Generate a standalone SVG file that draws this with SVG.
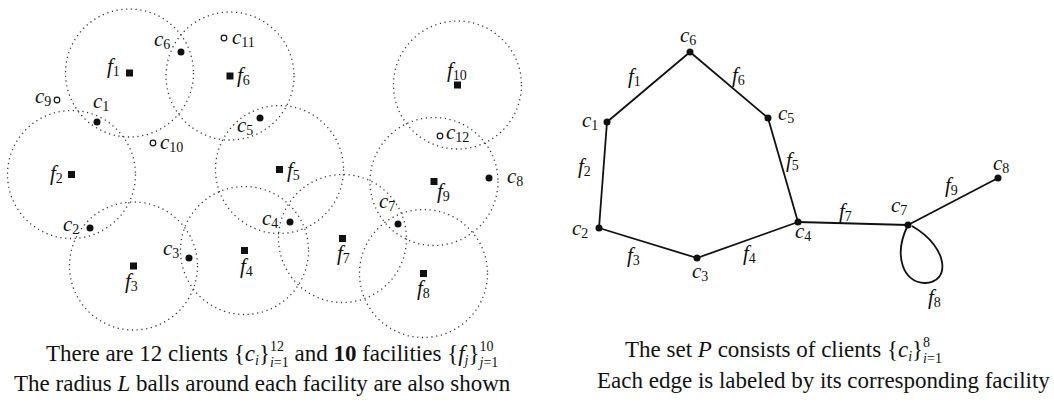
<svg xmlns="http://www.w3.org/2000/svg" width="1054" height="406" viewBox="0 0 1054 406">
<style>
.ball{fill:none;stroke:#333;stroke-width:1.3;stroke-dasharray:1.2 3.6}
.fac{fill:#111}
.cl{fill:#111}
.ho{fill:#fff;stroke:#111;stroke-width:1.2}
.lb{font-family:"Liberation Serif",serif;font-style:italic;font-size:21px;fill:#111}
.sb{font-style:normal;font-size:14px}
.cap{font-family:"Liberation Serif",serif;font-size:23px;fill:#111}
.it{font-style:italic}
.s{font-size:14px}
.edge{fill:none;stroke:#111;stroke-width:1.8}
.nd{fill:#111}
</style>
<rect width="1054" height="406" fill="#fff"/>
<g id="left-diagram">
<g id="f1"><circle class="ball" cx="129.5" cy="73" r="64"/><rect class="fac" x="126" y="69.5" width="7" height="7"/><text class="lb" x="107" y="73">f<tspan class="sb" dy="3">1</tspan></text></g>
<g id="f6"><circle class="ball" cx="230" cy="76" r="64"/><rect class="fac" x="226.5" y="72.5" width="7" height="7"/><text class="lb" x="237" y="82">f<tspan class="sb" dy="3">6</tspan></text></g>
<g id="f10"><circle class="ball" cx="457.5" cy="85" r="64"/><rect class="fac" x="454" y="81.5" width="7" height="7"/><text class="lb" x="447" y="77">f<tspan class="sb" dy="3">10</tspan></text></g>
<g id="f2"><circle class="ball" cx="71.5" cy="174.5" r="64"/><rect class="fac" x="68" y="171" width="7" height="7"/><text class="lb" x="50" y="180">f<tspan class="sb" dy="3">2</tspan></text></g>
<g id="f3"><circle class="ball" cx="133.5" cy="266" r="64"/><rect class="fac" x="130" y="262.5" width="7" height="7"/><text class="lb" x="125" y="288">f<tspan class="sb" dy="3">3</tspan></text></g>
<g id="f4"><circle class="ball" cx="244.5" cy="250.5" r="64"/><rect class="fac" x="241" y="247" width="7" height="7"/><text class="lb" x="240" y="273">f<tspan class="sb" dy="3">4</tspan></text></g>
<g id="f5"><circle class="ball" cx="279.5" cy="169.5" r="64"/><rect class="fac" x="276" y="166" width="7" height="7"/><text class="lb" x="287" y="177">f<tspan class="sb" dy="3">5</tspan></text></g>
<g id="f7"><circle class="ball" cx="342.5" cy="238.5" r="64"/><rect class="fac" x="339" y="235" width="7" height="7"/><text class="lb" x="337" y="260">f<tspan class="sb" dy="3">7</tspan></text></g>
<g id="f8"><circle class="ball" cx="423.5" cy="273.5" r="64"/><rect class="fac" x="420" y="270" width="7" height="7"/><text class="lb" x="417" y="295">f<tspan class="sb" dy="3">8</tspan></text></g>
<g id="f9"><circle class="ball" cx="434" cy="181.5" r="64"/><rect class="fac" x="430.5" y="178" width="7" height="7"/><text class="lb" x="437" y="198">f<tspan class="sb" dy="3">9</tspan></text></g>
<g id="c1"><circle class="cl" cx="97" cy="122" r="3.5"/><text class="lb" x="93" y="108">c<tspan class="sb" dy="3">1</tspan></text></g>
<g id="c2"><circle class="cl" cx="90" cy="228" r="3.5"/><text class="lb" x="63" y="231">c<tspan class="sb" dy="3">2</tspan></text></g>
<g id="c3"><circle class="cl" cx="189" cy="258" r="3.5"/><text class="lb" x="163" y="255">c<tspan class="sb" dy="3">3</tspan></text></g>
<g id="c4"><circle class="cl" cx="290" cy="222" r="3.5"/><text class="lb" x="262" y="225">c<tspan class="sb" dy="3">4</tspan></text></g>
<g id="c5"><circle class="cl" cx="260" cy="118" r="3.5"/><text class="lb" x="237" y="132">c<tspan class="sb" dy="3">5</tspan></text></g>
<g id="c6"><circle class="cl" cx="181" cy="52" r="3.5"/><text class="lb" x="154" y="46">c<tspan class="sb" dy="3">6</tspan></text></g>
<g id="c7"><circle class="cl" cx="398" cy="224" r="3.5"/><text class="lb" x="379" y="208">c<tspan class="sb" dy="3">7</tspan></text></g>
<g id="c8"><circle class="cl" cx="489" cy="178" r="3.5"/><text class="lb" x="507" y="183">c<tspan class="sb" dy="3">8</tspan></text></g>
<g id="c9"><circle class="ho" cx="57" cy="100" r="2.8"/><text class="lb" x="35" y="103">c<tspan class="sb" dy="3">9</tspan></text></g>
<g id="c10"><circle class="ho" cx="153" cy="143" r="2.8"/><text class="lb" x="160" y="149">c<tspan class="sb" dy="3">10</tspan></text></g>
<g id="c11"><circle class="ho" cx="224" cy="38" r="2.8"/><text class="lb" x="232" y="44">c<tspan class="sb" dy="3">11</tspan></text></g>
<g id="c12"><circle class="ho" cx="440" cy="136" r="2.8"/><text class="lb" x="446" y="139">c<tspan class="sb" dy="3">12</tspan></text></g>
</g>
<g id="connectors">
<line class="edge" x1="690" y1="52" x2="607" y2="122"/>
<line class="edge" x1="690" y1="52" x2="768" y2="118"/>
<line class="edge" x1="607" y1="122" x2="599" y2="228"/>
<line class="edge" x1="768" y1="118" x2="798" y2="222"/>
<line class="edge" x1="599" y1="228" x2="697" y2="258"/>
<line class="edge" x1="697" y1="258" x2="798" y2="222"/>
<line class="edge" x1="798" y1="222" x2="908" y2="225"/>
<line class="edge" x1="908" y1="225" x2="998" y2="178"/>
<path class="edge" d="M908,225 C893,255 903,283 925,283 C950,283 950,248 912,226"/>
<text class="lb" x="628" y="83">f<tspan class="sb" dy="3">1</tspan></text>
<text class="lb" x="732" y="82">f<tspan class="sb" dy="3">6</tspan></text>
<text class="lb" x="578" y="173">f<tspan class="sb" dy="3">2</tspan></text>
<text class="lb" x="786" y="167">f<tspan class="sb" dy="3">5</tspan></text>
<text class="lb" x="627" y="262">f<tspan class="sb" dy="3">3</tspan></text>
<text class="lb" x="743" y="260">f<tspan class="sb" dy="3">4</tspan></text>
<text class="lb" x="839" y="218">f<tspan class="sb" dy="3">7</tspan></text>
<text class="lb" x="945" y="192">f<tspan class="sb" dy="3">9</tspan></text>
<text class="lb" x="928" y="304">f<tspan class="sb" dy="3">8</tspan></text>
</g>
<g id="p-c1"><circle class="nd" cx="607" cy="122" r="3.5"/><text class="lb" x="582" y="127">c<tspan class="sb" dy="3">1</tspan></text></g>
<g id="p-c2"><circle class="nd" cx="599" cy="228" r="3.5"/><text class="lb" x="572" y="235">c<tspan class="sb" dy="3">2</tspan></text></g>
<g id="p-c3"><circle class="nd" cx="697" cy="258" r="3.5"/><text class="lb" x="692" y="278">c<tspan class="sb" dy="3">3</tspan></text></g>
<g id="p-c4"><circle class="nd" cx="798" cy="222" r="3.5"/><text class="lb" x="795" y="238">c<tspan class="sb" dy="3">4</tspan></text></g>
<g id="p-c5"><circle class="nd" cx="768" cy="118" r="3.5"/><text class="lb" x="778" y="120">c<tspan class="sb" dy="3">5</tspan></text></g>
<g id="p-c6"><circle class="nd" cx="690" cy="52" r="3.5"/><text class="lb" x="680" y="42">c<tspan class="sb" dy="3">6</tspan></text></g>
<g id="p-c7"><circle class="nd" cx="908" cy="225" r="3.5"/><text class="lb" x="891" y="212">c<tspan class="sb" dy="3">7</tspan></text></g>
<g id="p-c8"><circle class="nd" cx="998" cy="178" r="3.5"/><text class="lb" x="993" y="170">c<tspan class="sb" dy="3">8</tspan></text></g>
<g id="captions">
<text class="cap" x="46" y="361">There are 12 clients {<tspan class="it">c</tspan><tspan class="s it" dy="4">i</tspan><tspan dy="-4">}</tspan><tspan class="s" dy="-10">12</tspan><tspan class="s" dx="-14" dy="16"><tspan class="it">i</tspan>=1</tspan><tspan dy="-6"> and </tspan><tspan font-weight="bold">10</tspan> facilities {<tspan class="it">f</tspan><tspan class="s it" dy="4">j</tspan><tspan dy="-4">}</tspan><tspan class="s" dy="-10">10</tspan><tspan class="s" dx="-14" dy="16"><tspan class="it">j</tspan>=1</tspan></text>
<text class="cap" x="14" y="391">The radius <tspan class="it">L</tspan> balls around each facility are also shown</text>
<text class="cap" x="625" y="357">The set <tspan class="it">P</tspan> consists of clients {<tspan class="it">c</tspan><tspan class="s it" dy="4">i</tspan><tspan dy="-4">}</tspan><tspan class="s" dy="-10">8</tspan><tspan class="s" dx="-7" dy="16"><tspan class="it">i</tspan>=1</tspan></text>
<text class="cap" x="597" y="388">Each edge is labeled by its corresponding facility</text>
</g>
</svg>
